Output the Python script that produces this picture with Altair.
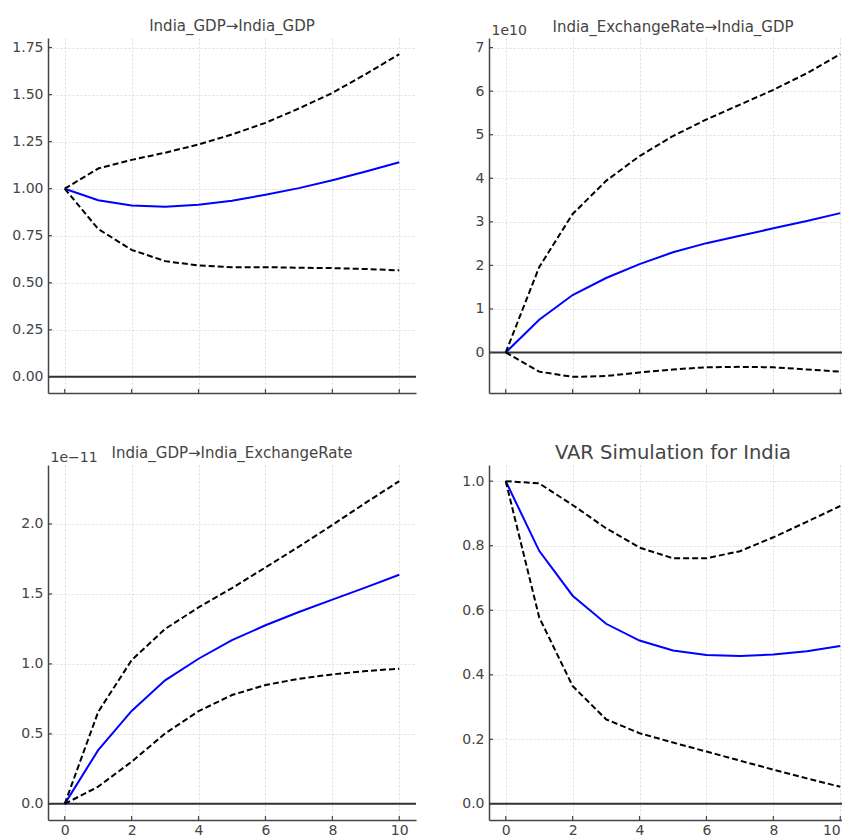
import altair as alt
import pandas as pd

# ---------------- data ----------------
steps = [0, 1, 2, 3, 4, 5, 6, 7, 8, 9, 10]
x_ticks = [0, 2, 4, 6, 8, 10]

# India_GDP -> India_GDP
gdp_gdp_irf = [1.0, 0.939, 0.911, 0.904, 0.915, 0.936, 0.968, 1.003, 1.045, 1.091, 1.140]
gdp_gdp_lower = [1.0, 0.786, 0.675, 0.615, 0.592, 0.583, 0.583, 0.580, 0.578, 0.573, 0.566]
gdp_gdp_upper = [1.0, 1.107, 1.153, 1.191, 1.235, 1.288, 1.350, 1.426, 1.509, 1.609, 1.715]
gdp_gdp_ticks = [0.0, 0.25, 0.5, 0.75, 1.0, 1.25, 1.5, 1.75]

# India_ExchangeRate -> India_GDP
fx_gdp_irf = [0.0, 0.75e10, 1.32e10, 1.71e10, 2.03e10, 2.30e10, 2.51e10, 2.68e10, 2.85e10, 3.02e10, 3.20e10]
fx_gdp_lower = [0.0, -0.44e10, -0.56e10, -0.54e10, -0.46e10, -0.39e10, -0.34e10, -0.33e10, -0.34e10, -0.39e10, -0.44e10]
fx_gdp_upper = [0.0, 1.96e10, 3.18e10, 3.94e10, 4.51e10, 4.97e10, 5.35e10, 5.69e10, 6.03e10, 6.41e10, 6.85e10]
fx_gdp_ticks = [0.0, 1e10, 2e10, 3e10, 4e10, 5e10, 6e10, 7e10]

# India_GDP -> India_ExchangeRate
gdp_fx_irf = [0.0, 0.384e-11, 0.664e-11, 0.883e-11, 1.037e-11, 1.170e-11, 1.276e-11, 1.371e-11, 1.459e-11, 1.547e-11, 1.637e-11]
gdp_fx_lower = [0.0, 0.123e-11, 0.301e-11, 0.503e-11, 0.662e-11, 0.778e-11, 0.849e-11, 0.894e-11, 0.925e-11, 0.949e-11, 0.966e-11]
gdp_fx_upper = [0.0, 0.657e-11, 1.027e-11, 1.250e-11, 1.404e-11, 1.542e-11, 1.689e-11, 1.838e-11, 1.993e-11, 2.152e-11, 2.306e-11]
gdp_fx_ticks = [0.0, 0.5e-11, 1.0e-11, 1.5e-11, 2.0e-11]

# India_ExchangeRate -> India_ExchangeRate (VAR Simulation for India)
fx_fx_irf = [1.0, 0.784, 0.645, 0.558, 0.506, 0.475, 0.461, 0.458, 0.463, 0.473, 0.489]
fx_fx_lower = [1.0, 0.578, 0.365, 0.262, 0.219, 0.190, 0.162, 0.134, 0.106, 0.079, 0.053]
fx_fx_upper = [1.0, 0.993, 0.926, 0.854, 0.794, 0.761, 0.761, 0.783, 0.826, 0.874, 0.923]
fx_fx_ticks = [0.0, 0.2, 0.4, 0.6, 0.8, 1.0]

# ---------------- style ----------------
FONT = "DejaVu Sans"
W, H = 368, 355
TEXT = "#444444"
SPINE = "#444444"


def padded_domain(*series):
    lo = min(min(min(s) for s in series), 0.0)
    hi = max(max(max(s) for s in series), 0.0)
    m = 0.05 * (hi - lo)
    return [lo - m, hi + m]


def panel(title, title_size, title_offset, irf, lower, upper, yticks, label_expr,
          offset_text, show_x_labels, right_edge=False):
    df = pd.DataFrame({"step": steps, "irf": irf, "lower": lower, "upper": upper})
    xscale = alt.Scale(domain=[-0.5, 10.5], nice=False, zero=False)
    yscale = alt.Scale(domain=padded_domain(irf, lower, upper), nice=False, zero=False)

    xargs = dict(values=x_ticks, grid=True, labels=show_x_labels, ticks=False,
                 tickSize=0, format="d", title=None, labelPadding=3, labelFlush=False)
    if right_edge:
        xargs["labelAlign"] = alt.condition("datum.value == 10",
                                            alt.value("right"), alt.value("center"))
    xaxis = alt.Axis(**xargs)
    yargs = dict(values=yticks, grid=True, ticks=False, tickSize=0, labelExpr=label_expr,
                 labelPadding=5, labelFlush=False)
    if offset_text:
        yargs.update(title=offset_text, titleAngle=0, titleX=2, titleY=-4,
                     titleAlign="left", titleBaseline="alphabetic")
    else:
        yargs.update(title=None)
    yaxis = alt.Axis(**yargs)

    def X(f):
        return alt.X(f"{f}:Q", scale=xscale, axis=xaxis)

    def Y(f):
        return alt.Y(f"{f}:Q", scale=yscale, axis=yaxis)

    base = alt.Chart(df)
    zero = alt.Chart(pd.DataFrame({"irf": [0.0]})).mark_rule(
        color="#333333", strokeWidth=2).encode(y=Y("irf"))
    blue = base.mark_line(color="#0000ff", strokeWidth=2).encode(x=X("step"), y=Y("irf"))
    low = base.mark_line(color="black", strokeWidth=2, strokeDash=[6, 3]).encode(
        x=X("step"), y=Y("lower"))
    up = base.mark_line(color="black", strokeWidth=2, strokeDash=[6, 3]).encode(
        x=X("step"), y=Y("upper"))
    xt = alt.Chart(pd.DataFrame({"step": x_ticks})).mark_rule(
        color=SPINE, strokeWidth=1.2).encode(x=X("step"), y=alt.value(H), y2=alt.value(H - 4))
    yt = alt.Chart(pd.DataFrame({"irf": yticks})).mark_rule(
        color=SPINE, strokeWidth=1.2).encode(y=Y("irf"), x=alt.value(0), x2=alt.value(4))

    return alt.layer(zero, blue, low, up, xt, yt).properties(
        width=W, height=H,
        title=alt.TitleParams(text=title, fontSize=title_size, frame="group",
                              baseline="alphabetic", offset=title_offset, anchor="middle",
                              font=FONT, fontWeight="normal", color=TEXT),
    )


tl = panel("India_GDP\u2192India_GDP", 15, -7.5, gdp_gdp_irf, gdp_gdp_lower, gdp_gdp_upper,
           gdp_gdp_ticks, "format(datum.value, '.2f')", None, False)
tr = panel("India_ExchangeRate\u2192India_GDP", 15, -24, fx_gdp_irf, fx_gdp_lower,
           fx_gdp_upper, fx_gdp_ticks, "format(datum.value / 1e10, 'd')", "1e10", False)
bl = panel("India_GDP\u2192India_ExchangeRate", 15, -22.5, gdp_fx_irf, gdp_fx_lower,
           gdp_fx_upper, gdp_fx_ticks, "format(datum.value / 1e-11, '.1f')",
           "1e\u221211", True)
br = panel("VAR Simulation for India", 19.5, -13, fx_fx_irf, fx_fx_lower, fx_fx_upper,
           fx_fx_ticks, "format(datum.value, '.1f')", None, True, right_edge=True)

chart = alt.concat(tl, tr, bl, br, columns=2, spacing={"row": 72, "column": 73},
                   bounds="flush").properties(
    padding={"left": 3, "top": 10, "right": -16, "bottom": 0}
).configure_axis(
    labelFont=FONT, labelFontSize=14, labelColor=TEXT,
    titleFont=FONT, titleFontSize=14, titleFontWeight="normal", titleColor=TEXT,
    gridColor="#d4d4d4", gridDash=[2, 2], gridWidth=0.8,
    domainColor=SPINE, domainWidth=1.5,
).configure_view(stroke=None)

chart.save("out.html", embed_options={"renderer": "svg", "actions": False})
